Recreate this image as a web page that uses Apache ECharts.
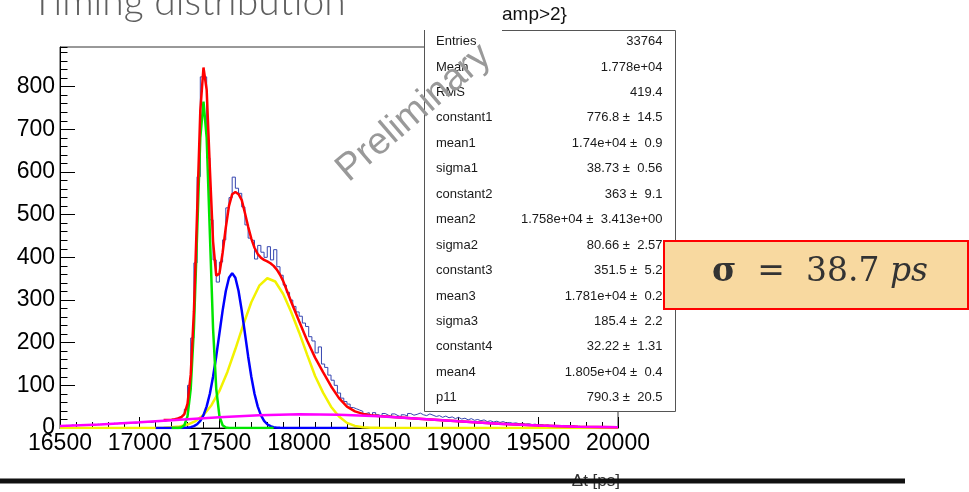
<!DOCTYPE html>
<html>
<head>
<meta charset="utf-8">
<script src="https://cdn.jsdelivr.net/npm/echarts@6/dist/echarts.min.js"></script>
<style>
  html, body { margin: 0; padding: 0; background: #ffffff; }
  #chart { width: 969px; height: 492px; }
</style>
</head>
<body>
<div id="chart"></div>
<script>
// Histogram of the time difference: 20 ps bins starting at 16500 ps
const binLow = 16500;
const binWidth = 20;
const counts = [
  4, 6, 5, 7, 5, 6, 8, 6, 7, 8,                  // 16500
  7, 9, 8, 10, 9, 8, 11, 10, 12, 11,             // 16700
  10, 13, 12, 11, 14, 13, 15, 14, 13, 16,        // 16900
  15, 17, 16, 18, 17, 21, 23, 27, 30, 44,        // 17100
  100, 211, 387, 589, 823, 823, 633, 488, 394, 342, // 17300
  389, 441, 516, 540, 588, 562, 550, 518, 476, 445, // 17500
  440, 396, 428, 412, 400, 425, 394, 418, 378, 358, // 17700
  335, 318, 300, 285, 272, 262, 246, 238, 214, 204, // 17900
  176, 190, 150, 142, 124, 112, 100, 82, 70, 62, // 18100
  56, 48, 45, 42, 39, 34, 36, 30, 36, 31,        // 18300
  28, 34, 30, 27, 33, 29, 26, 31, 28, 34,        // 18500
  30, 32, 35, 31, 29, 33, 30, 27, 29, 25,        // 18700
  28, 24, 26, 22, 25, 21, 23, 19, 22, 18,        // 18900
  20, 17, 19, 15, 17, 14, 16, 13, 15, 12,        // 19100
  13, 11, 12, 10, 11, 9, 10, 8, 9, 7,            // 19300
  8, 6, 7, 5, 6, 5, 4, 6, 4, 3,                  // 19500
  5, 3, 4, 2, 3, 2, 3, 2, 1, 2,                  // 19700
  1, 2, 1, 1, 1                                  // 19900
];

// Fit components, sampled along the time axis
const greenX = [17200, 17220, 17240, 17260, 17280, 17300, 17320, 17340, 17360, 17380, 17400,
  17420, 17440, 17460, 17480, 17500, 17520, 17540, 17560, 17580, 17600, 17620, 17640, 17660,
  17680, 17700, 17720, 17740, 17760, 17780, 17800, 17820, 17840];
const greenY = [0, 0.02, 0.15, 1.1, 6.4, 27.7, 91.9, 233.9, 455.7, 679.9, 765,
  679.9, 455.7, 233.9, 91.9, 27.7, 6.4, 1.1, 0.15, 0, 0, 0, 0, 0,
  0, 0, 0, 0, 0, 0, 0, 0, 0];

const blueX = [17100, 17150, 17200, 17220, 17240, 17260, 17280, 17300, 17320, 17340, 17360,
  17380, 17400, 17420, 17440, 17460, 17480, 17500, 17520, 17540, 17560, 17580, 17600, 17620,
  17640, 17660, 17680, 17700, 17720, 17740, 17760, 17780, 17800, 17820, 17840, 17860, 17880,
  17900, 18000, 18100, 18200, 18300];
const blueY = [0, 0, 0.01, 0.02, 0.05, 0.14, 0.36, 0.88, 2.0, 4.3, 8.8,
  16.8, 30.1, 50.7, 80.4, 120.0, 168.3, 221.9, 275.2, 321.0, 352.0, 363, 352.0, 321.0,
  275.2, 221.9, 168.3, 120.0, 80.4, 50.7, 30.1, 16.8, 8.8, 4.3, 2.0, 0.88, 0.36,
  0.14, 0, 0, 0, 0];

const yellowX = [16500, 16750, 17000, 17050, 17100, 17150, 17200, 17250, 17300, 17350, 17400,
  17450, 17500, 17550, 17600, 17650, 17700, 17750, 17800, 17850, 17900, 17950, 18000, 18050,
  18100, 18150, 18200, 18250, 18300, 18350, 18400, 18450, 18500, 18550, 18600, 19000, 19500, 20000];
const yellowY = [0, 0, 0.03, 0.08, 0.23, 0.62, 1.57, 3.7, 8.0, 16.2, 30.5,
  53.4, 86.9, 131.5, 185.1, 242.2, 294.8, 333.6, 351.0, 343.4, 314, 272, 224, 172,
  122, 83, 50, 27, 12, 5, 2, 0.8, 0.3, 0.1, 0.04, 0, 0, 0];

const magentaX = [16500, 16750, 17000, 17250, 17500, 17750, 18000, 18250, 18500, 18750, 19000,
  19250, 19500, 19750, 20000];
const magentaY = [4.71, 8.33, 13.33, 19.30, 25.29, 29.98, 32.16, 31.2, 27.40, 21.77, 15.64,
  10.17, 5.99, 3.19, 1.53];

// Total fit
const redX = [17150, 17200, 17220, 17240, 17260, 17280, 17300, 17320, 17340, 17360, 17380,
  17400, 17420, 17440, 17460, 17480, 17500, 17520, 17540, 17560, 17580, 17600, 17620, 17640,
  17660, 17680, 17700, 17720, 17740, 17760, 17780, 17800, 17820, 17840, 17860, 17880, 17900,
  17950, 18000, 18050, 18100, 18150, 18200, 18250, 18300, 18350, 18400, 18450, 18500,
  18750, 19000, 19250, 19500, 19750, 20000];
const redY = [19, 19.6, 20.8, 22.3, 25.1, 32.7, 57.1, 125.6, 273.8, 505.0, 743.1,
  845, 792.5, 607.9, 437.5, 357.1, 361.8, 410.7, 470.0, 520.5, 548, 553, 548, 534.2,
  503.8, 472.1, 444.0, 422.4, 407.8, 399.2, 394.1, 390.5, 386.2, 380.0, 371.2, 359.2, 344.3,
  296, 250, 205, 165, 131, 98, 70, 50, 39, 33, 30, 28,
  21.8, 15.6, 10.2, 6.0, 3.2, 1.5];

// Axis ticks
const xTickStart = 16500, xTickEnd = 20000, xTickStep = 500;
const yTickStep = 100, yMax = 893;

// Statistics box
const statNames = ['Entries', 'Mean', 'RMS', 'constant1', 'mean1', 'sigma1', 'constant2',
  'mean2', 'sigma2', 'constant3', 'mean3', 'sigma3', 'constant4', 'mean4', 'p11'];
const statValues = ['33764', '1.778e+04', '419.4', '776.8 \u00b1  14.5', '1.74e+04 \u00b1  0.9',
  '38.73 \u00b1  0.56', '363 \u00b1  9.1', '1.758e+04 \u00b1  3.413e+00', '80.66 \u00b1  2.57',
  '351.5 \u00b1  5.2', '1.781e+04 \u00b1  0.2', '185.4 \u00b1  2.2', '32.22 \u00b1  1.31',
  '1.805e+04 \u00b1  0.4', '790.3 \u00b1  20.5'];

const pairs = (xs, ys) => xs.map((x, i) => [x, ys[i]]);
const histData = counts.map((c, i) => [binLow + i * binWidth, c]);
histData.push([binLow + counts.length * binWidth, counts[counts.length - 1]]);

const sans = '"Liberation Sans", Arial, Helvetica, sans-serif';

const curve = (name, xs, ys, color, z) => ({
  name, type: 'line', data: pairs(xs, ys), showSymbol: false, smooth: false,
  lineStyle: { color, width: 2.5 }, z, silent: true
});

const graphic = [];
// slide title
graphic.push({
  type: 'text', x: 31, y: 2, z: 50,
  style: { text: 'Timing distribution', font: '300 39px Lato, "Open Sans", sans-serif',
    fill: '#5f5f5f', align: 'left', verticalAlign: 'middle' }
});
// histogram title remainder
graphic.push({
  type: 'text', x: 502, y: 15, z: 50,
  style: { text: 'amp>2}', font: '19px ' + sans, fill: '#111', align: 'left', verticalAlign: 'middle' }
});
// statistics box
graphic.push({ type: 'rect', shape: { x: 424, y: 30, width: 251, height: 381 }, z: 40,
  style: { fill: '#ffffff', stroke: null } });
graphic.push({ type: 'polyline', shape: { points: [[502, 30.5], [675.5, 30.5], [675.5, 411.5], [424.5, 411.5], [424.5, 30]] },
  z: 41, style: { stroke: '#555', lineWidth: 1, fill: null } });
statNames.forEach((n, i) => {
  const y = 41.5 + i * 25.45;
  graphic.push({ type: 'text', x: 436, y, z: 42,
    style: { text: n, font: '13px ' + sans, fill: '#1a1a1a', align: 'left', verticalAlign: 'middle' } });
  graphic.push({ type: 'text', x: 662.5, y, z: 42,
    style: { text: statValues[i], font: '13px ' + sans, fill: '#1a1a1a', align: 'right', verticalAlign: 'middle' } });
});
// watermark
graphic.push({
  type: 'text', x: 414, y: 113, rotation: 0.707, z: 60,
  style: { text: 'Preliminary', font: '38px ' + sans, fill: '#999999', align: 'center', verticalAlign: 'middle' }
});
// highlighted resolution box
graphic.push({ type: 'rect', shape: { x: 664, y: 241, width: 304, height: 68 }, z: 70,
  style: { fill: '#f8d9a0', stroke: '#ff0000', lineWidth: 2 } });
graphic.push({
  type: 'text', x: 820, y: 272, z: 71,
  style: {
    text: '{b|\u03c3}  =  38.7 {i|ps}',
    font: '33px "DejaVu Serif", serif', fill: '#333333', align: 'center', verticalAlign: 'middle',
    rich: {
      b: { font: 'bold 33px "DejaVu Serif", serif', fill: '#333333' },
      i: { font: 'italic 33px "DejaVu Serif", serif', fill: '#333333' }
    }
  }
});
// x-axis title with the slide rule over it
graphic.push({ type: 'text', x: 620, y: 481, z: 80,
  style: { text: '\u0394t [ps]', font: '17px ' + sans, fill: '#333', align: 'right', verticalAlign: 'middle' } });
graphic.push({ type: 'rect', shape: { x: 0, y: 478.5, width: 905, height: 5 }, z: 81,
  style: { fill: '#111111' } });

const option = {
  animation: false,
  grid: { left: 60, top: 47, width: 558, height: 381, show: true, borderColor: '#333', borderWidth: 1,
    backgroundColor: 'transparent' },
  xAxis: {
    type: 'value', min: xTickStart, max: xTickEnd, interval: xTickStep,
    axisLine: { show: true, onZero: false, lineStyle: { color: '#000', width: 1 } },
    axisTick: { show: true, inside: true, length: 11, lineStyle: { color: '#000' } },
    minorTick: { show: true, splitNumber: 5, length: 6, lineStyle: { color: '#000' } },
    axisLabel: { color: '#000', fontSize: 23, fontFamily: sans, margin: 4, formatter: v => String(v) },
    splitLine: { show: false }
  },
  yAxis: [
    {
      type: 'value', min: 0, max: yMax, interval: yTickStep,
      axisLine: { show: true, onZero: false, lineStyle: { color: '#000', width: 1 } },
      axisTick: { show: true, inside: true, length: 15, lineStyle: { color: '#000' } },
      axisLabel: { color: '#000', fontSize: 23, fontFamily: sans, margin: 5, showMaxLabel: false,
        formatter: v => String(v) },
      splitLine: { show: false }
    },
    {
      type: 'value', min: 0, max: yMax, interval: yTickStep / 5, position: 'left', offset: 0,
      axisLine: { show: false },
      axisTick: { show: true, inside: true, length: 7.5, lineStyle: { color: '#000' } },
      axisLabel: { show: false },
      splitLine: { show: false }
    }
  ],
  series: [
    { name: 'data', type: 'line', data: histData, step: 'end', showSymbol: false,
      lineStyle: { color: '#3646b0', width: 1 }, z: 2, silent: true },
    curve('g3', yellowX, yellowY, '#f2f200', 3),
    curve('g2', blueX, blueY, '#0000ff', 4),
    curve('g1', greenX, greenY, '#00e600', 5),
    curve('total', redX, redY, '#ff0000', 6),
    curve('g4', magentaX, magentaY, '#ff00ff', 7)
  ],
  graphic
};

const chart = echarts.init(document.getElementById('chart'), null, { renderer: 'canvas', width: 969, height: 492 });
chart.setOption(option);
</script>
</body>
</html>
